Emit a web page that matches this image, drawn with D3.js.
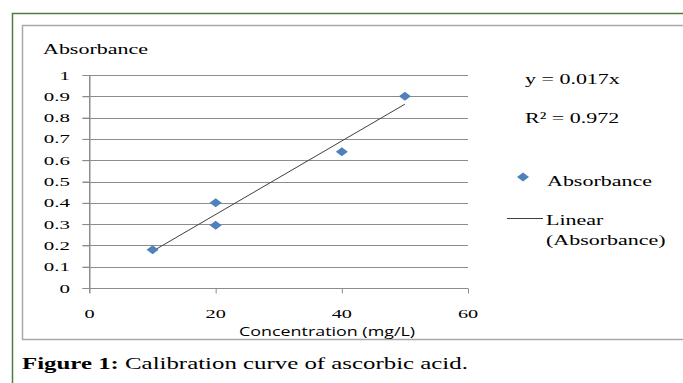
<!DOCTYPE html>
<html>
<head>
<meta charset="utf-8">
<script src="https://cdn.jsdelivr.net/npm/d3@7"></script>
<style>
  body { margin: 0; background: #fff; }
  svg { display: block; }
</style>
</head>
<body>
<svg id="chart" width="683" height="383"></svg>
<script>
// data
var concentration = [10, 20, 20, 40, 50];
var absorbance = [0.18, 0.40, 0.295, 0.64, 0.90];
var yTicks = [0, 0.1, 0.2, 0.3, 0.4, 0.5, 0.6, 0.7, 0.8, 0.9, 1];
var yTickLabels = ["0", "0.1", "0.2", "0.3", "0.4", "0.5", "0.6", "0.7", "0.8", "0.9", "1"];
var xTicks = [0, 20, 40, 60];
var equationText = "y = 0.017x";
var r2Text = "R\u00B2 = 0.972";

var SERIF = "'Liberation Serif', 'Times New Roman', serif",
    SANS = "'Open Sans', sans-serif",
    SX = 1.42;   // the picture is stretched sideways

var svg = d3.select("#chart"),
    width = +svg.attr("width"),
    height = +svg.attr("height");

var x = d3.scaleLinear().domain([0, 60]).range([89.5, 468]);
var y = d3.scaleLinear().domain([0, 1]).range([288, 75]);

function label(parent, px, py, str, o) {
    o = o || {};
    return parent.append("text")
        .attr("transform", "translate(" + px + "," + py + ") scale(" + (o.sx || SX) + ",1)")
        .attr("text-anchor", o.anchor || "start")
        .style("font-family", o.font || SERIF)
        .style("font-size", (o.size || 15.5) + "px")
        .style("font-weight", o.weight || "normal")
        .attr("fill", "#000")
        .text(str);
}

// stretch a label so it covers the same width as in the picture
function fit(sel, px, py, w) {
    var len = sel.node().getComputedTextLength();
    sel.attr("transform", "translate(" + px + "," + py + ") scale(" + (w / len) + ",1)");
}

// frames
svg.append("path")
    .attr("d", "M" + width + ",13.5H12.5V" + height)
    .attr("fill", "none").attr("stroke", "#4f7b3d").attr("stroke-width", 1.5);
svg.append("path")
    .attr("d", "M" + width + ",25.5H22.5V339.5H" + width)
    .attr("fill", "none").attr("stroke", "#a8a8a8").attr("stroke-width", 1.5);

var g = svg.append("g");

// gridlines
g.append("g").selectAll("line")
    .data(yTicks)
    .enter().append("line")
    .attr("x1", x(0) - 7).attr("x2", x(60))
    .attr("y1", function(d) { return Math.round(y(d)) + 0.5; })
    .attr("y2", function(d) { return Math.round(y(d)) + 0.5; })
    .attr("stroke", "#8c8c8c").attr("stroke-width", 1);

// axes (lines only, labels drawn below)
var yAxis = g.append("g")
    .attr("transform", "translate(" + x(0) + ",0)")
    .call(d3.axisLeft(y).tickValues(yTicks).tickSize(7).tickSizeOuter(0).tickFormat(""));
var xAxis = g.append("g")
    .attr("transform", "translate(0," + (Math.round(y(0)) + 0.5) + ")")
    .call(d3.axisBottom(x).tickValues(xTicks).tickSize(5).tickSizeOuter(0).tickFormat(""));
g.selectAll(".domain").attr("stroke", "#8c8c8c");
g.selectAll(".tick line").attr("stroke", "#8c8c8c");
xAxis.select(".domain").remove();
yAxis.append("line")
    .attr("x1", 0).attr("x2", 0)
    .attr("y1", y(1)).attr("y2", y(0) + 5)
    .attr("stroke", "#8c8c8c");

// tick labels
yTicks.forEach(function(d, i) {
    label(g, 70, y(d) + 4.5, yTickLabels[i], {anchor: "end", size: 13.5, sx: 1.55});
});
xTicks.forEach(function(d) {
    label(g, x(d), 318, String(d), {anchor: "middle", size: 13.5, sx: 1.5});
});

// axis titles
label(g, 43, 53.5, "Absorbance");
var xTitle = label(g, 239, 336, "Concentration (mg/L)", {font: SANS, size: 13});
fit(xTitle, 239, 336, 176);

// trendline, least squares through the origin
var slope = d3.sum(concentration, function(c, i) { return c * absorbance[i]; }) /
            d3.sum(concentration, function(c) { return c * c; });
var xr = d3.extent(concentration);
g.append("line")
    .attr("x1", x(xr[0])).attr("y1", y(slope * xr[0]))
    .attr("x2", x(xr[1])).attr("y2", y(slope * xr[1]))
    .attr("stroke", "#404040").attr("stroke-width", 1);

// points
var diamond = "M0,-4.5L6,0L0,4.5L-6,0Z";
g.append("g").selectAll("path")
    .data(concentration)
    .enter().append("path")
    .attr("d", diamond)
    .attr("transform", function(d, i) { return "translate(" + x(d) + "," + y(absorbance[i]) + ")"; })
    .attr("fill", "#4f81bd");

// legend
var leg = svg.append("g");
label(leg, 525, 83.5, equationText);
label(leg, 525, 123, r2Text);
leg.append("path").attr("d", diamond).attr("transform", "translate(523,177)").attr("fill", "#4f81bd");
label(leg, 547, 186, "Absorbance");
leg.append("line").attr("x1", 507).attr("x2", 543).attr("y1", 218.5).attr("y2", 218.5)
    .attr("stroke", "#404040").attr("stroke-width", 1);
label(leg, 546, 225, "Linear");
label(leg, 546, 245, "(Absorbance)");

// caption
var cap = svg.append("text")
    .style("font-family", SERIF)
    .style("font-size", "17.5px")
    .attr("fill", "#000");
cap.append("tspan").style("font-weight", "bold").text("Figure 1:");
cap.append("tspan").text(" Calibration curve of ascorbic acid.");
fit(cap, 22, 369, 446);
</script>
</body>
</html>
